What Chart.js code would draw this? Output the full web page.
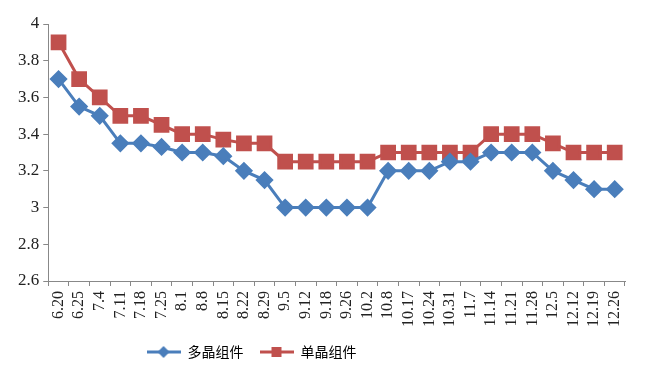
<!DOCTYPE html>
<html>
<head>
<meta charset="utf-8">
<script src="https://cdn.jsdelivr.net/npm/chart.js@4/dist/chart.umd.min.js"></script>
<style>
  html, body { margin: 0; padding: 0; background: #fff; }
  #wrap { width: 645px; height: 381px; }
</style>
</head>
<body>
<div id="wrap"><canvas id="chart" width="645" height="381"></canvas></div>
<script>
// -------------------- data
var categories = ['6.20','6.25','7.4','7.11','7.18','7.25','8.1','8.8','8.15','8.22','8.29','9.5','9.12','9.18','9.26','10.2','10.8','10.17','10.24','10.31','11.7','11.14','11.21','11.28','12.5','12.12','12.19','12.26'];
var multiValues = [3.7,3.55,3.5,3.35,3.35,3.33,3.3,3.3,3.28,3.2,3.15,3.0,3.0,3.0,3.0,3.0,3.2,3.2,3.2,3.25,3.25,3.3,3.3,3.3,3.2,3.15,3.1,3.1];
var monoValues = [3.9,3.7,3.6,3.5,3.5,3.45,3.4,3.4,3.37,3.35,3.35,3.25,3.25,3.25,3.25,3.25,3.3,3.3,3.3,3.3,3.3,3.4,3.4,3.4,3.35,3.3,3.3,3.3];
var seriesNames = ['多晶组件','单晶组件'];
var yMin = 2.6, yMax = 4, yStep = 0.2;

var blue = '#4A7EBB', red = '#C0504D';
var serif = '"Liberation Serif", "Times New Roman", serif';

// legend swatch: line with marker in the middle
function swatch(color, shape){
	var c = document.createElement('canvas');
	c.width = 34; c.height = 14;
	var g = c.getContext('2d');
	g.strokeStyle = color; g.lineWidth = 3;
	g.beginPath(); g.moveTo(0,7); g.lineTo(34,7); g.stroke();
	g.fillStyle = color;
	g.beginPath();
	if(shape=='diamond'){
		g.moveTo(17,1); g.lineTo(23,7); g.lineTo(17,13); g.lineTo(11,7);
	}else{
		g.rect(12,2,10,10);
	}
	g.closePath(); g.fill();
	return c;
}
var swatches = [swatch(blue,'diamond'), swatch(red,'square')];

// excel puts the legend left of centre, shift it after layout
var legendShift = {
	id: 'legendShift',
	afterLayout: function(chart){
		var lg = chart.legend;
		if(lg){ lg.left -= 68; lg.right -= 68; lg.top -= 3; lg.bottom -= 3; }
	}
};

var ctx = document.getElementById('chart').getContext('2d');
new Chart(ctx, {
	type: 'line',
	data: {
		labels: categories,
		datasets: [
			{
				label: seriesNames[0],
				data: multiValues,
				borderColor: blue,
				backgroundColor: blue,
				borderWidth: 3,
				pointStyle: 'rectRot',
				pointRadius: 7,
				pointBackgroundColor: blue,
				pointBorderColor: blue,
				fill: false,
				tension: 0
			},
			{
				label: seriesNames[1],
				data: monoValues,
				borderColor: red,
				backgroundColor: red,
				borderWidth: 3,
				pointStyle: 'rect',
				pointRadius: 9,
				pointBackgroundColor: red,
				pointBorderColor: red,
				fill: false,
				tension: 0
			}
		]
	},
	options: {
		responsive: false,
		animation: false,
		devicePixelRatio: 1,
		layout: { padding: { left: 14, right: 20, top: 24, bottom: 9 } },
		plugins: {
			tooltip: { enabled: false },
			legend: {
				position: 'bottom',
				labels: {
					usePointStyle: true,
					pointStyleWidth: 34,
					color: '#333',
					font: { family: '"Noto Sans CJK SC", sans-serif', size: 14 },
					padding: 16,
					generateLabels: function(chart){
						return chart.data.datasets.map(function(ds, i){
							return {
								text: ds.label,
								pointStyle: swatches[i],
								fillStyle: ds.borderColor,
								strokeStyle: ds.borderColor,
								lineWidth: 0,
								datasetIndex: i,
								hidden: false
							};
						});
					}
				}
			}
		},
		scales: {
			x: {
				offset: true,
				border: { display: true, color: '#888', width: 1 },
				grid: { display: true, drawOnChartArea: false, drawTicks: true, tickLength: 5, color: '#888', offset: true },
				ticks: {
					minRotation: 90, maxRotation: 90, autoSkip: false,
					color: '#222', padding: 5,
					font: { family: serif, size: 16 }
				}
			},
			y: {
				min: yMin, max: yMax,
				border: { display: true, color: '#888', width: 1 },
				grid: { display: true, drawOnChartArea: false, drawTicks: true, tickLength: 5, color: '#888' },
				ticks: {
					stepSize: yStep, color: '#222', padding: 4,
					font: { family: serif, size: 17 },
					callback: function(v){ return String(Number(v.toFixed(1))); }
				}
			}
		}
	},
	plugins: [legendShift]
});
</script>
</body>
</html>
